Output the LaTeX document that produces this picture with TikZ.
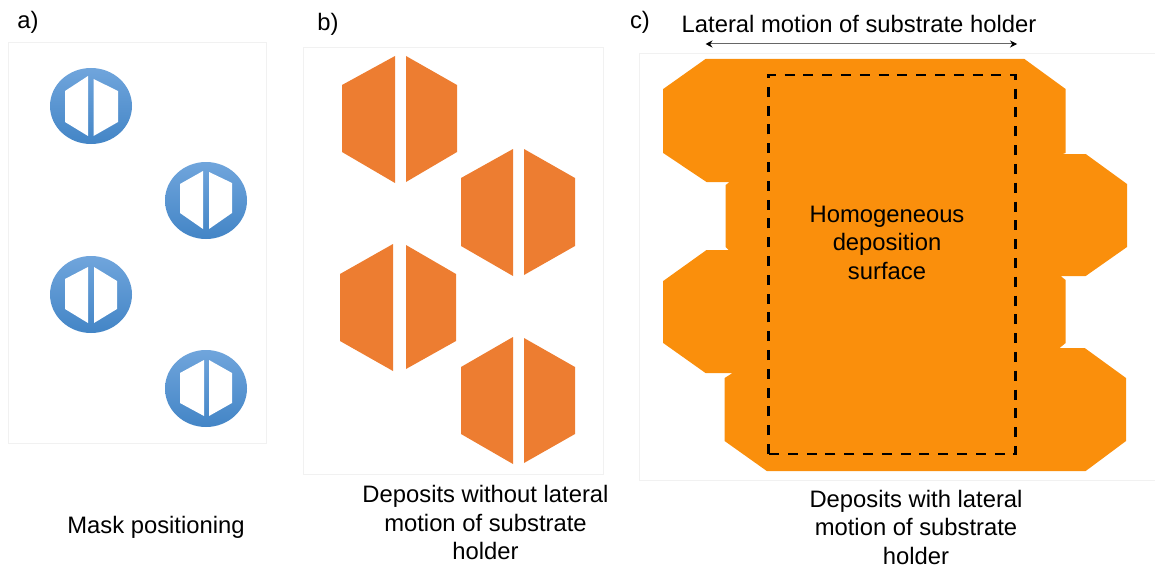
\documentclass[tikz,border=0pt]{standalone}
\usepackage{fontspec}
\setmainfont{Liberation Sans}
\usetikzlibrary{arrows.meta}
\definecolor{framegray}{HTML}{F1F1F1}
\definecolor{depositorange}{HTML}{ED7D31}
\definecolor{sweeporange}{HTML}{FA8F0C}
\definecolor{disctop}{HTML}{70A5DC}
\definecolor{discmid}{HTML}{5A9CDC}
\definecolor{disclow}{HTML}{4385C6}
\tikzset{
  caption/.style={font=\fontsize{23.8}{28.5}\selectfont, align=center, text=black, inner sep=0pt},
  maskdisc/.style={top color=disctop, middle color=discmid, bottom color=disclow},
  panel/.style={draw=framegray, line width=0.8},
  spot/.style={fill=depositorange},
}

\begin{document}
\begin{tikzpicture}[x=1pt, y=-1pt]
\useasboundingbox (0, 0) rectangle (1155, 567);

\draw[panel] (8, 42) rectangle (266, 443);
\draw[panel] (303, 47) rectangle (603, 474);
\draw[panel] (1155, 53) -- (639, 53) -- (639, 480) -- (1155, 480);

\node[caption] (labela) at (28, 22) {a)};
\node[caption] (labelb) at (328, 24) {b)};
\node[caption] (labelc) at (640, 22) {c)};

% mask
\shade[maskdisc] (91, 106) ellipse (41 and 38);
\fill[white] (65, 91) -- (88, 76) -- (88, 136) -- (65, 122) -- cycle;
\fill[white] (93.5, 79) -- (118, 91) -- (118, 122) -- (93.5, 136) -- cycle;

\shade[maskdisc] (206, 200.5) ellipse (41 and 38.5);
\fill[white] (180, 184) -- (203, 171) -- (203, 229) -- (180, 213) -- cycle;
\fill[white] (209, 172) -- (232, 183) -- (232, 213) -- (209, 229) -- cycle;

\shade[maskdisc] (91, 294.5) ellipse (41 and 38.5);
\fill[white] (65, 279) -- (88, 267) -- (88, 323) -- (65, 309) -- cycle;
\fill[white] (94, 267) -- (117, 281) -- (117, 309) -- (94, 323) -- cycle;

\shade[maskdisc] (206, 388.5) ellipse (41 and 38.5);
\fill[white] (180, 373) -- (204, 360) -- (204, 416) -- (180, 403) -- cycle;
\fill[white] (209, 360) -- (232, 373) -- (232, 403) -- (209, 416) -- cycle;

% without motion
\fill[spot] (342, 85) -- (395, 56) -- (395, 183) -- (342, 152) -- cycle;
\fill[spot] (406, 56) -- (457, 85) -- (457, 152) -- (406, 182) -- cycle;

\fill[spot] (461, 178) -- (513, 149) -- (513, 276) -- (461, 246) -- cycle;
\fill[spot] (524, 149) -- (575, 178) -- (575, 246) -- (524, 275) -- cycle;

\fill[spot] (340, 274) -- (393, 244) -- (393, 371) -- (340, 341) -- cycle;
\fill[spot] (406, 245) -- (456, 274) -- (456, 341) -- (406, 369) -- cycle;

\fill[spot] (461, 367) -- (513, 337) -- (513, 464) -- (461, 434) -- cycle;
\fill[spot] (524, 338) -- (575, 367) -- (575, 434) -- (524, 463) -- cycle;

% with motion
\fill[sweeporange] (705.5, 59) -- (1024.4, 59) -- (1065.6, 89) -- (1065.6, 153) -- (1062.6, 154)
  -- (1085.7, 154) -- (1127, 184) -- (1127, 247) -- (1085.7, 276) -- (1060.6, 276) -- (1065.6, 280)
  -- (1065.6, 343) -- (1059.6, 348) -- (1084.7, 348) -- (1126, 378) -- (1126, 441) -- (1085.7, 471)
  -- (766.8, 471) -- (724.6, 441) -- (724.6, 378) -- (732.6, 373) -- (705.5, 373) -- (663.2, 343)
  -- (663.2, 281) -- (706.5, 250) -- (728.6, 250) -- (725.6, 247) -- (725.6, 185) -- (729.6, 182)
  -- (706.5, 182) -- (663.2, 153) -- (663.2, 89) -- cycle;
\draw[line width=2.8, dash pattern=on 10 off 8.8] (768.8, 454) -- (768.8, 75) -- (1015.3, 75) -- (1015.3, 454) -- cycle;

\coordinate (motionleft) at (705.5, 44);
\coordinate (motionright) at (1017, 44);
\draw[{Stealth[length=7, width=7, black]}-{Stealth[length=7, width=7, black]}, draw=black!60, line width=1] (motionleft) -- (motionright);

\node[caption] (motion) at (859, 24) {Lateral motion of substrate holder};
\node[caption] (surface) at (887, 242.5) {Homogeneous\\deposition\\surface};
\node[caption] (capa) at (156, 527) {Mask positioning};
\node[caption] (capb) at (485.5, 522.5) {Deposits without lateral\\motion of substrate\\holder};
\node[caption] (capc) at (916, 527) {Deposits with lateral\\motion of substrate\\holder};

\end{tikzpicture}
\end{document}
